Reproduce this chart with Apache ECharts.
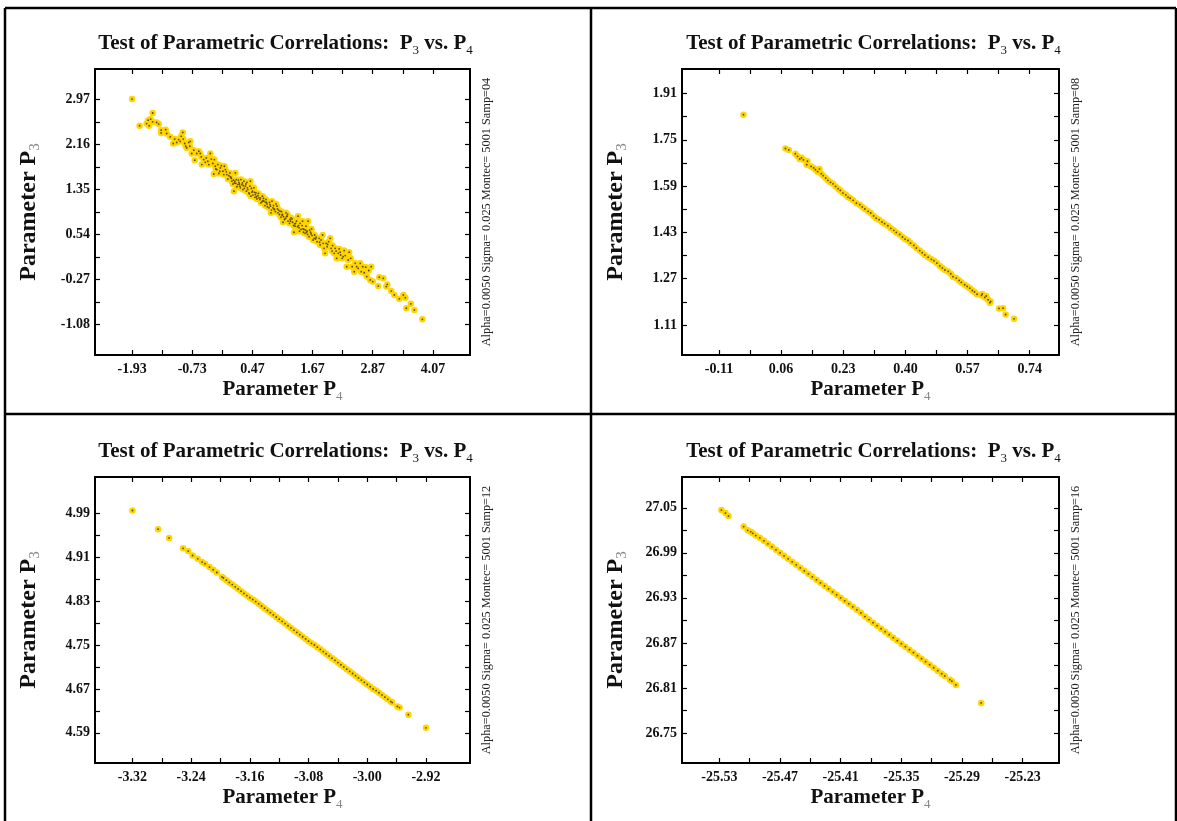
<!DOCTYPE html>
<html>
<head>
<meta charset="utf-8">
<script src="https://cdn.jsdelivr.net/npm/echarts@6/dist/echarts.min.js"></script>
<style>
html,body{margin:0;padding:0;background:#fff;}
#chart{width:1177px;height:821px;}
</style>
</head>
<body>
<div id="chart"></div>
<script>
// ---------- DATA ----------
const titleText = 'Test of Parametric Correlations:  P{s|3} vs. P{s|4}';
const sideTexts = [
  'Alpha=0.0050 Sigma= 0.025 Montec= 5001 Samp=04',
  'Alpha=0.0050 Sigma= 0.025 Montec= 5001 Samp=08',
  'Alpha=0.0050 Sigma= 0.025 Montec= 5001 Samp=12',
  'Alpha=0.0050 Sigma= 0.025 Montec= 5001 Samp=16'
];
const p1XTicks = [-1.93, -0.73, 0.47, 1.67, 2.87, 4.07];
const p1YTicks = [-1.08, -0.27, 0.54, 1.35, 2.16, 2.97];
const p2XTicks = [-0.11, 0.06, 0.23, 0.40, 0.57, 0.74];
const p2YTicks = [1.11, 1.27, 1.43, 1.59, 1.75, 1.91];
const p3XTicks = [-3.32, -3.24, -3.16, -3.08, -3.00, -2.92];
const p3YTicks = [4.59, 4.67, 4.75, 4.83, 4.91, 4.99];
const p4XTicks = [-25.53, -25.47, -25.41, -25.35, -25.29, -25.23];
const p4YTicks = [26.75, 26.81, 26.87, 26.93, 26.99, 27.05];
const p1XRange = [-2.67, 4.81], p1YRange = [-1.633, 3.523];
const p2XRange = [-0.211, 0.820], p2YRange = [1.006, 1.995];
const p3XRange = [-3.371, -2.860], p3YRange = [4.535, 5.056];
const p4XRange = [-25.567, -25.194], p4YRange = [26.710, 27.091];

const panel1 = [
[-1.93,2.98],[-1.78,2.50],[-1.64,2.54],[-1.61,2.60],[-1.59,2.50],[-1.56,2.62],[-1.52,2.57],[-1.52,2.73],
[-1.44,2.56],[-1.40,2.53],[-1.35,2.42],[-1.35,2.37],[-1.26,2.43],[-1.24,2.36],[-1.17,2.30],[-1.11,2.18],
[-1.08,2.26],[-1.04,2.20],[-1.00,2.25],[-0.97,2.22],[-0.95,2.31],[-0.92,2.38],[-0.91,2.26],[-0.88,2.18],
[-0.86,2.13],[-0.84,2.10],[-0.80,2.20],[-0.78,2.13],[-0.77,2.22],[-0.74,2.00],[-0.70,2.06],[-0.68,1.88],
[-0.64,2.00],[-0.60,2.04],[-0.57,2.00],[-0.55,1.94],[-0.54,1.80],[-0.50,1.89],[-0.47,1.84],[-0.42,1.86],
[-0.37,2.00],[-0.35,1.90],[-0.32,1.82],[-0.30,1.63],[-0.29,1.89],[-0.27,1.77],[-0.24,1.71],[-0.22,1.80],
[-0.20,1.64],[-0.17,1.74],[-0.15,1.78],[-0.12,1.68],[-0.09,1.77],[-0.07,1.71],[-0.04,1.62],[-0.02,1.54],
[0.02,1.65],[0.04,1.57],[0.06,1.50],[0.10,1.32],[0.11,1.47],[0.13,1.65],[0.15,1.53],[0.18,1.44],
[0.20,1.48],[0.22,1.41],[0.24,1.53],[0.26,1.44],[0.28,1.35],[0.30,1.50],[0.33,1.41],[0.35,1.32],
[0.36,1.48],[0.40,1.29],[0.42,1.41],[0.43,1.50],[0.44,1.23],[0.47,1.32],[0.50,1.38],[0.52,1.21],
[0.54,1.29],[0.56,1.18],[0.58,1.24],[0.62,1.17],[0.64,1.11],[0.67,1.23],[0.70,1.14],[0.72,1.06],
[0.74,1.17],[0.76,1.09],[0.80,1.02],[0.82,1.08],[0.84,0.93],[0.86,1.14],[0.88,1.02],[0.91,0.99],
[0.94,1.09],[0.96,1.05],[0.98,0.93],[1.02,0.96],[1.04,0.85],[1.06,0.89],[1.08,0.76],[1.11,0.81],
[1.14,0.93],[1.16,0.87],[1.18,0.78],[1.22,0.81],[1.24,0.84],[1.27,0.76],[1.30,0.58],[1.32,0.69],
[1.35,0.78],[1.38,0.87],[1.40,0.66],[1.42,0.74],[1.44,0.63],[1.47,0.78],[1.50,0.63],[1.52,0.56],
[1.54,0.69],[1.56,0.60],[1.58,0.78],[1.60,0.50],[1.63,0.58],[1.65,0.64],[1.68,0.44],[1.71,0.53],
[1.74,0.49],[1.76,0.41],[1.80,0.47],[1.82,0.35],[1.84,0.44],[1.87,0.53],[1.90,0.29],[1.92,0.20],
[1.94,0.38],[1.96,0.32],[1.99,0.41],[2.02,0.47],[2.04,0.29],[2.07,0.34],[2.10,0.20],[2.12,0.29],
[2.15,0.11],[2.18,0.20],[2.20,0.28],[2.23,0.17],[2.26,0.11],[2.30,0.25],[2.32,0.16],[2.35,-0.04],
[2.38,0.08],[2.40,0.22],[2.43,0.11],[2.46,-0.04],[2.50,-0.13],[2.52,0.02],[2.55,-0.04],[2.58,-0.07],
[2.62,0.02],[2.64,-0.13],[2.67,-0.04],[2.70,-0.15],[2.73,-0.05],[2.75,-0.22],[2.79,-0.11],[2.82,-0.28],
[2.84,-0.04],[2.87,-0.31],[2.98,-0.39],[3.00,-0.23],[3.08,-0.25],[3.14,-0.40],[3.16,-0.36],[3.24,-0.48],
[3.30,-0.55],[3.40,-0.62],[3.48,-0.55],[3.52,-0.60],[3.54,-0.79],[3.63,-0.71],[3.70,-0.82],[3.86,-0.99],
[0.00,1.60],[0.05,1.55],[0.08,1.45],[0.12,1.50],[0.16,1.40],[0.19,1.52],[0.23,1.38],[0.27,1.47],
[0.31,1.37],[0.34,1.45],[0.38,1.35],[0.41,1.27],[0.45,1.37],[0.48,1.25],[0.51,1.30],[0.55,1.22],
[0.59,1.28],[0.63,1.20],[0.66,1.13],[0.69,1.19],[0.73,1.12],[0.77,1.04],[0.81,1.12],[0.85,0.98],
[0.89,1.06],[0.93,0.95],[0.97,1.00],[1.01,0.90],[1.05,0.95],[1.09,0.86],[1.13,0.83],[1.17,0.90],
[1.21,0.74],[1.26,0.82],[1.29,0.70],[1.33,0.74],[1.37,0.68],[1.41,0.60],[1.46,0.70],[1.49,0.58],
[1.53,0.62],[1.57,0.54],[1.61,0.62],[1.66,0.52],[1.70,0.47],[-0.45,1.92],[-0.40,1.80],[-0.26,1.72],
[-0.18,1.68],[-0.10,1.62],[-0.05,1.67],
[0.03,1.58],[0.09,1.52],[0.14,1.46],[0.21,1.45],[0.29,1.42],[0.37,1.38],[0.46,1.30],[0.53,1.26],
[0.60,1.20],[0.68,1.15],[0.75,1.12],[0.83,1.05],[0.90,1.00],[0.99,0.98],[1.07,0.90],[1.15,0.86],
[1.23,0.78],[1.31,0.73],[1.39,0.70],[1.48,0.64],[1.55,0.58],[1.64,0.55],[1.73,0.46],[1.81,0.40],
[1.88,0.38],[1.97,0.36],[2.06,0.24],[2.14,0.24],[2.22,0.22],[2.28,0.14]
];
const panel2 = [
[-0.043,1.837],[0.072,1.720],[0.081,1.715],[0.099,1.702],[0.105,1.693],[0.111,1.684],[0.116,1.688],
[0.121,1.681],[0.130,1.664],[0.132,1.676],[0.142,1.658],[0.149,1.653],[0.154,1.647],[0.160,1.640],
[0.165,1.649],[0.170,1.633],[0.175,1.626],[0.182,1.618],[0.188,1.610],[0.195,1.603],[0.202,1.598],
[0.209,1.589],[0.216,1.581],[0.222,1.575],[0.229,1.566],[0.237,1.560],[0.243,1.552],[0.249,1.548],
[0.257,1.541],[0.266,1.531],[0.275,1.526],[0.282,1.518],[0.289,1.511],[0.298,1.503],[0.305,1.497],
[0.313,1.487],[0.320,1.479],[0.328,1.474],[0.336,1.466],[0.343,1.460],[0.352,1.453],[0.360,1.444],
[0.368,1.437],[0.375,1.430],[0.384,1.423],[0.392,1.414],[0.399,1.407],[0.407,1.402],[0.414,1.393],
[0.423,1.385],[0.430,1.376],[0.439,1.367],[0.446,1.360],[0.453,1.352],[0.462,1.344],[0.471,1.337],
[0.478,1.332],[0.486,1.324],[0.494,1.314],[0.501,1.307],[0.508,1.300],[0.517,1.295],[0.524,1.287],
[0.530,1.277],[0.539,1.272],[0.547,1.264],[0.553,1.257],[0.562,1.249],[0.569,1.243],[0.576,1.237],
[0.583,1.229],[0.589,1.224],[0.596,1.216],[0.608,1.212],[0.610,1.217],[0.617,1.205],[0.621,1.210],
[0.626,1.197],[0.631,1.187],[0.633,1.191],[0.656,1.167],[0.667,1.168],[0.674,1.146],[0.697,1.131]
];
const panel3 = [
[-3.320,4.995],[-3.285,4.961],[-3.270,4.945],[-3.251,4.926],[-3.244,4.921],[-3.238,4.913],[-3.231,4.907],
[-3.225,4.901],[-3.221,4.898],[-3.215,4.892],[-3.210,4.887],[-3.205,4.882],[-3.198,4.874],
[-3.196,4.872],[-3.192,4.868],[-3.188,4.864],[-3.184,4.860],[-3.180,4.856],[-3.176,4.852],[-3.172,4.848],
[-3.168,4.844],[-3.164,4.840],[-3.160,4.836],[-3.156,4.833],[-3.152,4.829],[-3.148,4.825],[-3.144,4.821],
[-3.140,4.817],[-3.136,4.813],[-3.132,4.809],[-3.128,4.805],[-3.124,4.801],[-3.120,4.797],[-3.116,4.793],
[-3.112,4.789],[-3.108,4.785],[-3.104,4.781],[-3.100,4.777],[-3.096,4.773],[-3.092,4.769],[-3.088,4.765],
[-3.084,4.761],[-3.080,4.757],[-3.076,4.753],[-3.072,4.750],[-3.068,4.746],[-3.064,4.742],[-3.060,4.738],
[-3.056,4.734],[-3.052,4.730],[-3.048,4.726],[-3.044,4.722],[-3.040,4.718],[-3.036,4.714],[-3.032,4.710],
[-3.028,4.706],[-3.024,4.702],[-3.020,4.698],[-3.016,4.694],[-3.012,4.690],[-3.008,4.686],[-3.004,4.682],
[-3.000,4.678],[-2.996,4.674],[-2.992,4.670],[-2.988,4.667],[-2.984,4.663],[-2.980,4.659],[-2.976,4.655],
[-2.972,4.651],[-2.968,4.647],[-2.966,4.645],[-2.959,4.638],[-2.956,4.636],[-2.944,4.623],[-2.920,4.599]
];
const panel4 = [
[-25.528,27.047],[-25.524,27.043],[-25.521,27.039],[-25.506,27.025],[-25.502,27.020],[-25.499,27.018],
[-25.497,27.016],[-25.494,27.013],[-25.490,27.010],
[-25.486,27.006],[-25.482,27.002],[-25.478,26.998],[-25.474,26.994],[-25.470,26.990],[-25.466,26.986],
[-25.462,26.982],[-25.458,26.978],[-25.454,26.974],[-25.450,26.970],[-25.446,26.966],[-25.442,26.962],
[-25.438,26.958],[-25.434,26.954],[-25.430,26.950],[-25.426,26.946],[-25.422,26.942],[-25.418,26.938],
[-25.414,26.934],[-25.410,26.930],[-25.406,26.926],[-25.402,26.922],[-25.398,26.918],[-25.394,26.914],
[-25.390,26.910],[-25.386,26.905],[-25.382,26.901],[-25.378,26.897],[-25.374,26.893],[-25.370,26.889],
[-25.366,26.885],[-25.362,26.881],[-25.358,26.877],[-25.354,26.873],[-25.350,26.869],[-25.346,26.865],
[-25.342,26.861],[-25.338,26.857],[-25.334,26.853],[-25.330,26.849],[-25.326,26.845],[-25.322,26.841],
[-25.318,26.837],[-25.314,26.833],[-25.310,26.829],[-25.307,26.826],[-25.302,26.821],[-25.300,26.819],
[-25.296,26.814],[-25.271,26.790]
];

// ---------- LAYOUT / STYLE ----------
const SERIF = "'Liberation Serif', 'DejaVu Serif', serif";
const grids = [
  {left: 95, top: 69, width: 375, height: 286},
  {left: 682, top: 69, width: 377, height: 286},
  {left: 95, top: 477, width: 375, height: 286},
  {left: 682, top: 477, width: 377, height: 286}
];
const panels = [
  {data: panel1, xt: p1XTicks, yt: p1YTicks, xr: p1XRange, yr: p1YRange},
  {data: panel2, xt: p2XTicks, yt: p2YTicks, xr: p2XRange, yr: p2YRange},
  {data: panel3, xt: p3XTicks, yt: p3YTicks, xr: p3XRange, yr: p3YRange},
  {data: panel4, xt: p4XTicks, yt: p4YTicks, xr: p4XRange, yr: p4YRange}
];
function withMinor(t) {
  const out = t.slice();
  for (let i = 0; i < t.length - 1; i++) out.push((t[i] + t[i + 1]) / 2);
  return out;
}
const richX = {
  m: {fontFamily: SERIF, fontWeight: 'bold', fontSize: 21, color: '#111', lineHeight: 26},
  s: {fontFamily: SERIF, fontSize: 13, color: '#888', verticalAlign: 'bottom', lineHeight: 26}
};
const richY = {
  m: {fontFamily: SERIF, fontWeight: 'bold', fontSize: 24, color: '#111', lineHeight: 28},
  s: {fontFamily: SERIF, fontSize: 15, color: '#888', verticalAlign: 'bottom', lineHeight: 28}
};
const axisLineStyle = {show: true, onZero: false, lineStyle: {color: '#000', width: 2}};
function tickStyle(vals) {
  return {show: true, inside: true, length: 5, customValues: vals, lineStyle: {color: '#000', width: 1.2}};
}
const xAxes = [], yAxes = [], series = [];
panels.forEach((p, i) => {
  const xt = withMinor(p.xt), yt = withMinor(p.yt);
  xAxes.push({
    gridIndex: i, type: 'value', position: 'bottom', min: p.xr[0], max: p.xr[1],
    axisLine: axisLineStyle, axisTick: tickStyle(xt), splitLine: {show: false},
    axisLabel: {customValues: p.xt, formatter: v => v.toFixed(2), fontFamily: SERIF, fontWeight: 'bold',
      fontSize: 14, color: '#111', margin: 7},
    name: '{m|Parameter P}{s|4}', nameLocation: 'middle', nameGap: 22,
    nameTextStyle: {rich: richX}
  });
  xAxes.push({
    gridIndex: i, type: 'value', position: 'top', min: p.xr[0], max: p.xr[1],
    axisLine: axisLineStyle, axisTick: tickStyle(xt), splitLine: {show: false}, axisLabel: {show: false}
  });
  yAxes.push({
    gridIndex: i, type: 'value', position: 'left', min: p.yr[0], max: p.yr[1],
    axisLine: axisLineStyle, axisTick: tickStyle(yt), splitLine: {show: false},
    axisLabel: {customValues: p.yt, formatter: v => v.toFixed(2), fontFamily: SERIF, fontWeight: 'bold',
      fontSize: 14, color: '#111', margin: 5},
    name: '{m|Parameter P}{s|3}', nameLocation: 'middle', nameGap: 52,
    nameTextStyle: {rich: richY}
  });
  yAxes.push({
    gridIndex: i, type: 'value', position: 'right', min: p.yr[0], max: p.yr[1],
    axisLine: axisLineStyle, axisTick: tickStyle(yt), splitLine: {show: false}, axisLabel: {show: false}
  });
  series.push({
    type: 'scatter', xAxisIndex: 2 * i, yAxisIndex: 2 * i, data: p.data,
    symbol: 'circle', symbolSize: 6.5, itemStyle: {color: '#FFD400', opacity: 1}, silent: true
  });
  series.push({
    type: 'scatter', xAxisIndex: 2 * i, yAxisIndex: 2 * i, data: p.data,
    symbol: 'circle', symbolSize: 1.8, itemStyle: {color: '#5c4a00', opacity: 1}, silent: true
  });
});

const graphic = [];
// panel frame lines
const frameLines = [
  [5, 8, 1176, 8], [5, 8, 5, 821], [1176, 8, 1176, 821], [591, 8, 591, 821], [5, 414, 1176, 414]
];
frameLines.forEach(l => graphic.push({
  type: 'line', shape: {x1: l[0], y1: l[1], x2: l[2], y2: l[3]}, style: {stroke: '#000', lineWidth: 2.5}, z: 10
}));
grids.forEach((g, i) => {
  graphic.push({
    type: 'text', x: g.left + g.width / 2 + 3, y: g.top - 25,
    style: {
      text: titleText, align: 'center', verticalAlign: 'middle',
      rich: {
        s: {fontFamily: SERIF, fontSize: 13, color: '#888', verticalAlign: 'bottom', lineHeight: 26}
      },
      fontFamily: SERIF, fontWeight: 'bold', fontSize: 21, fill: '#111', lineHeight: 26
    }
  });
  graphic.push({
    type: 'text', x: g.left + g.width + 17, y: g.top + 143, rotation: Math.PI / 2,
    style: {
      text: sideTexts[i], align: 'center', verticalAlign: 'middle',
      fontFamily: SERIF, fontSize: 12.3, fill: '#222'
    }
  });
});

const chart = echarts.init(document.getElementById('chart'), null, {renderer: 'canvas'});
chart.setOption({
  backgroundColor: '#fff',
  animation: false,
  grid: grids.map(g => Object.assign({containLabel: false}, g)),
  xAxis: xAxes,
  yAxis: yAxes,
  series: series,
  graphic: graphic
});
</script>
</body>
</html>
